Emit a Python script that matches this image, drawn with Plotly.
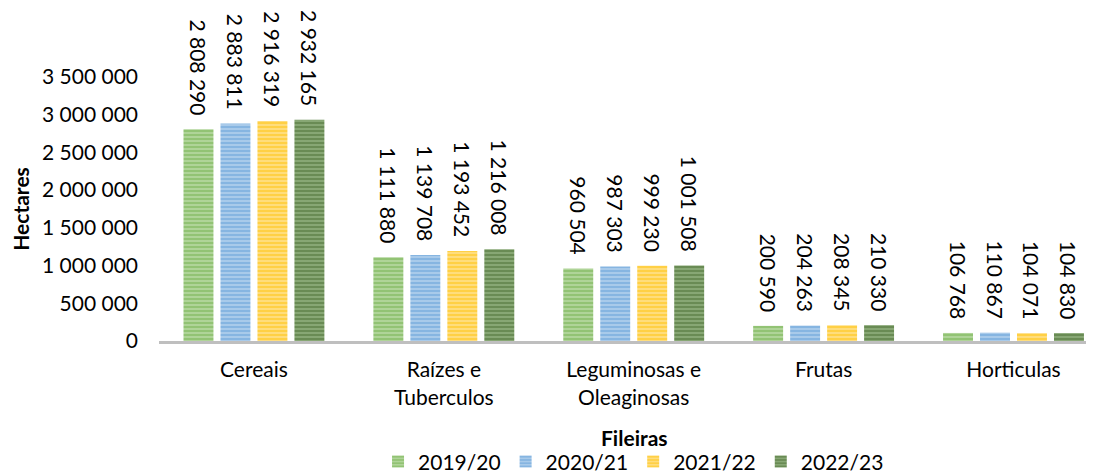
import plotly.graph_objects as go

categories = ["Cereais", "Raízes e<br>Tuberculos", "Leguminosas e<br>Oleaginosas", "Frutas", "Horticulas"]
series_names = ["2019/20", "2020/21", "2021/22", "2022/23"]
v_2019 = [2808290, 1111880, 960504, 200590, 106768]
v_2020 = [2883811, 1139708, 987303, 204263, 110867]
v_2021 = [2916319, 1193452, 999230, 208345, 104071]
v_2022 = [2932165, 1216008, 1001508, 210330, 104830]
values = [v_2019, v_2020, v_2021, v_2022]

main_colors = ["#70AD47", "#5B9BD5", "#FFC000", "#43682B"]
light_colors = ["#B5D8A0", "#B0CFEC", "#FFE08A", "#8FAE7C"]

FONT = "Lato"
fig = go.Figure()
for name, vals, mc, lc in zip(series_names, values, main_colors, light_colors):
    fig.add_trace(go.Bar(
        name=name, x=categories, y=vals,
        marker=dict(color=lc, line=dict(width=0),
                    pattern=dict(shape="-", fgcolor=mc, bgcolor=lc, size=4, solidity=0.6)),
        texttemplate="%{y:,}\u00a0\u00a0",
        textposition="outside", textangle=90, constraintext="none", cliponaxis=False,
        textfont=dict(family=FONT, size=21, color="#000000"),
    ))

fig.add_annotation(text="<b>Fileiras</b>", xref="paper", yref="paper", x=0.509, y=-0.364,
                   xanchor="center", yanchor="middle", showarrow=False,
                   font=dict(family=FONT, size=21, color="#000000"))

fig.update_layout(
    width=1086, height=467,
    separators=", ",
    barmode="group", bargap=0.221, bargroupgap=0.19,
    margin=dict(l=151, r=0, t=69, b=134, autoexpand=False),
    paper_bgcolor="white", plot_bgcolor="white",
    font=dict(family=FONT, size=21, color="#000000"),
    showlegend=True,
    legend=dict(orientation="h", xref="container", yref="container", x=0.576, y=0.028,
                xanchor="center", yanchor="middle", font=dict(size=21), itemwidth=30,
                traceorder="normal", tracegroupgap=0),
    xaxis=dict(range=[-0.5, 4.424], showline=True, linecolor="#BFBFBF", linewidth=3,
               showgrid=False, ticks="", tickfont=dict(size=21), automargin=False,
               ticklabelstandoff=8),
    yaxis=dict(range=[0, 3500000], dtick=500000, tickformat=",", showgrid=False,
               showline=False, zeroline=False, ticks="", ticklabelstandoff=20,
               tickfont=dict(size=21), automargin=False,
               title=dict(text="<b>Hectares</b>", font=dict(size=21), standoff=8)),
)

fig.write_html("out.html")
